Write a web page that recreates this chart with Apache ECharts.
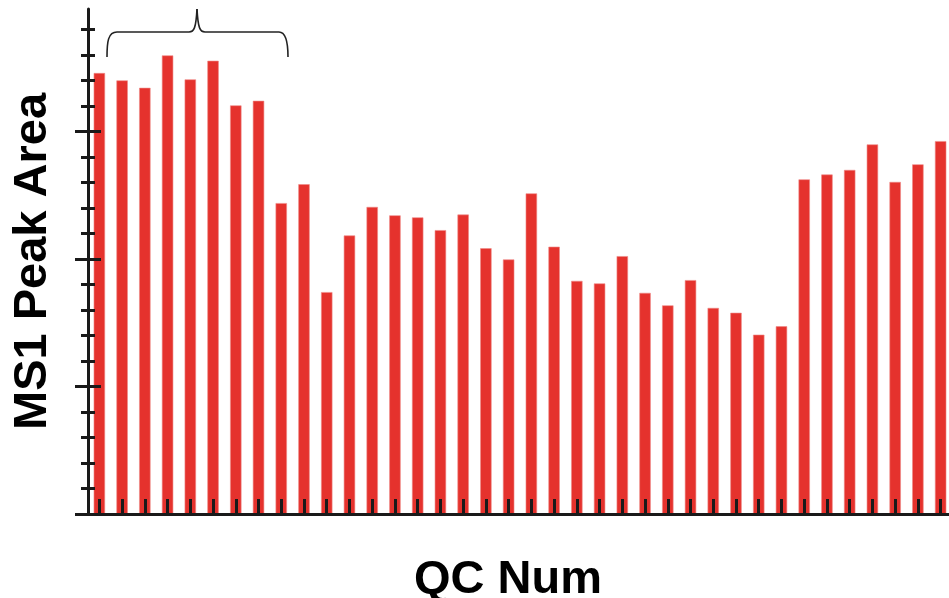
<!DOCTYPE html>
<html>
<head>
<meta charset="utf-8">
<script src="https://cdn.jsdelivr.net/npm/echarts@6/dist/echarts.min.js"></script>
<style>
  html, body { margin: 0; padding: 0; background: #ffffff; }
  #chart { width: 949px; height: 598px; }
</style>
</head>
<body>
<div id="chart"></div>
<script>
// ---- data ----
const categories = Array.from({ length: 38 }, (_, i) => String(i + 1));
const peakArea = [
  17.29, 17.00, 16.71, 17.98, 17.04, 17.77, 16.02, 16.20,
  12.19, 12.93, 8.70, 10.92, 12.04, 11.71, 11.63, 11.13,
  11.74, 10.42, 9.98, 12.57, 10.48, 9.14, 9.04, 10.11,
  8.67, 8.18, 9.17, 8.08, 7.89, 7.03, 7.36, 13.12,
  13.31, 13.49, 14.49, 13.02, 13.71, 14.62
];
const minorTicks = [1, 2, 3, 4, 6, 7, 8, 9, 11, 12, 13, 14, 16, 17, 18, 19];
const majorTicks = [0, 5, 10, 15];
const yMax = 19.8;
const xTitle = 'QC Num';
const yTitle = 'MS1 Peak Area';

// ---- styles ----
const ink = '#1a1a1a';
const barRed = '#e5322d';
const titleFont = { fontFamily: 'Liberation Sans, Arial, sans-serif', fontWeight: 'bold', fontSize: 47, color: '#000' };

const chart = echarts.init(document.getElementById('chart'), null, { renderer: 'canvas' });

function tickAxis(values, offset, len) {
  return {
    type: 'value', min: 0, max: yMax, position: 'left', offset: offset, z: 10,
    axisLine: { show: false },
    axisTick: { show: true, inside: false, length: len, customValues: values, lineStyle: { color: ink, width: 3 } },
    axisLabel: { show: false },
    splitLine: { show: false }
  };
}

const braceStyle = { fill: null, stroke: '#222222', lineWidth: 1.6 };
function bez(x1, y1, c1x, c1y, c2x, c2y, x2, y2) {
  return { type: 'bezierCurve', z: 20, shape: { x1: x1, y1: y1, cpx1: c1x, cpy1: c1y, cpx2: c2x, cpy2: c2y, x2: x2, y2: y2 }, style: braceStyle };
}
function seg(x1, y1, x2, y2) {
  return { type: 'line', z: 20, shape: { x1: x1, y1: y1, x2: x2, y2: y2 }, style: braceStyle };
}

chart.setOption({
  animation: false,
  backgroundColor: '#ffffff',
  grid: { left: 88, top: 9, bottom: 84, width: 864, containLabel: false, outerBoundsMode: 'none' },
  xAxis: {
    type: 'category',
    data: categories,
    z: 10,
    name: xTitle,
    nameLocation: 'middle',
    nameGap: 43,
    nameTextStyle: Object.assign({}, titleFont, { padding: [0, 24, 0, 0] }),
    axisLine: { show: true, lineStyle: { color: ink, width: 3 } },
    axisTick: { show: true, inside: true, alignWithLabel: true, interval: 0, length: 15, lineStyle: { color: ink, width: 3 } },
    axisLabel: { show: false },
    splitLine: { show: false }
  },
  yAxis: [
    {
      type: 'value', min: 0, max: yMax, position: 'left', z: 10,
      name: yTitle,
      nameLocation: 'middle',
      nameGap: 31,
      nameRotate: 90,
      nameTextStyle: titleFont,
      axisLine: { show: true, lineStyle: { color: ink, width: 3 } },
      axisTick: { show: false },
      axisLabel: { show: false },
      splitLine: { show: false }
    },
    tickAxis(minorTicks, -7, 14),
    tickAxis(majorTicks, -13, 26)
  ],
  series: [{
    type: 'bar',
    data: peakArea,
    yAxisIndex: 0,
    barWidth: '50%',
    itemStyle: { color: barRed, borderColor: '#ee8a86', borderWidth: 0.6 }
  }],
  graphic: [
    bez(107, 57, 107, 42, 108, 32, 117, 32),
    seg(117, 32, 189, 32),
    bez(189, 32, 194, 32, 196, 28, 197, 9),
    bez(197, 9, 198, 28, 200, 32, 205, 32),
    seg(205, 32, 279, 32),
    bez(279, 32, 286, 32, 288, 42, 288, 57)
  ]
});
</script>
</body>
</html>
